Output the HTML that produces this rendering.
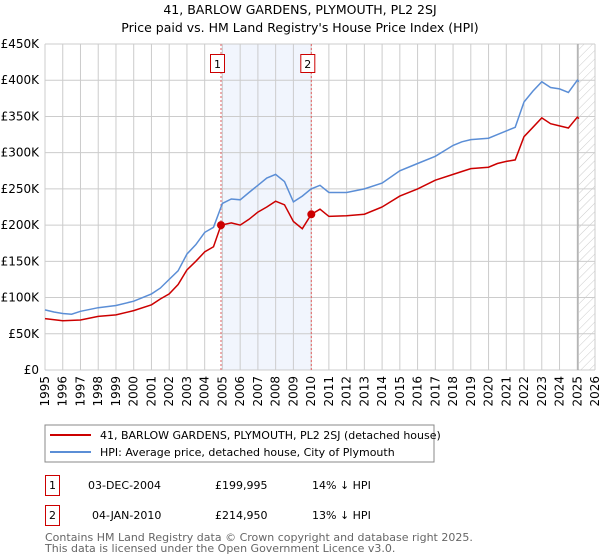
<!DOCTYPE html>
<html><head><meta charset="utf-8"><style>
body{margin:0;background:#fff;}
svg{display:block;font-family:"DejaVu Sans","Liberation Sans",sans-serif;}
</style></head><body>
<svg id="chart" width="600" height="560" viewBox="0 0 600 560">
<text x="300" y="14" text-anchor="middle" font-size="12.5" fill="#000">41, BARLOW GARDENS, PLYMOUTH, PL2 2SJ</text>
<text x="300" y="32" text-anchor="middle" font-size="12.5" fill="#000">Price paid vs. HM Land Registry's House Price Index (HPI)</text>
<g id="plot"></g>
<g>
<rect x="45" y="425" width="389" height="37" fill="#fff" stroke="#888"/>
<line x1="50" y1="435" x2="91" y2="435" stroke="#cc0000" stroke-width="2"/>
<text x="100" y="439" font-size="11">41, BARLOW GARDENS, PLYMOUTH, PL2 2SJ (detached house)</text>
<line x1="50" y1="452" x2="91" y2="452" stroke="#5b8ed6" stroke-width="2"/>
<text x="100" y="456" font-size="11">HPI: Average price, detached house, City of Plymouth</text>
</g>
<g font-size="11">
<rect x="45.5" y="475.5" width="14" height="20" fill="#fff" stroke="#cc0000"/>
<text x="52.5" y="489" text-anchor="middle">1</text>
<text x="88" y="489">03-DEC-2004</text>
<text x="215" y="489">£199,995</text>
<text x="312" y="489">14% ↓ HPI</text>
<rect x="45.5" y="505.5" width="14" height="20" fill="#fff" stroke="#cc0000"/>
<text x="52.5" y="519" text-anchor="middle">2</text>
<text x="92" y="519">04-JAN-2010</text>
<text x="215" y="519">£214,950</text>
<text x="312" y="519">13% ↓ HPI</text>
</g>
<text x="45" y="541" font-size="11" fill="#666">Contains HM Land Registry data © Crown copyright and database right 2025.</text>
<text x="45" y="552" font-size="11" fill="#666">This data is licensed under the Open Government Licence v3.0.</text>
</svg>
<script>
const years=[1995,1996,1997,1998,1999,2000,2001,2002,2003,2004,2005,2006,2007,2008,2009,2010,2011,2012,2013,2014,2015,2016,2017,2018,2019,2020,2021,2022,2023,2024,2025,2026];
const yTicks=[0,50000,100000,150000,200000,250000,300000,350000,400000,450000];
const yTickLabels=["£0","£50K","£100K","£150K","£200K","£250K","£300K","£350K","£400K","£450K"];
const hpiDates=[1995,1995.5,1996,1996.5,1997,1998,1999,2000,2001,2001.5,2002,2002.5,2003,2003.5,2004,2004.5,2005,2005.5,2006,2006.5,2007,2007.5,2008,2008.5,2009,2009.5,2010,2010.5,2011,2012,2013,2014,2015,2016,2017,2018,2018.5,2019,2020,2020.5,2021,2021.5,2022,2022.5,2023,2023.5,2024,2024.5,2025,2025.1];
const hpiValues=[83000,80000,78000,77000,81000,86000,89000,95000,105000,113000,125000,137000,160000,173000,190000,197000,230000,236000,235000,245000,255000,265000,270000,260000,232000,240000,250000,255000,245000,245000,250000,258000,275000,285000,295000,310000,315000,318000,320000,325000,330000,335000,370000,385000,398000,390000,388000,383000,400000,398000];
const priceDates=[1995,1996,1997,1998,1999,2000,2001,2001.5,2002,2002.5,2003,2003.5,2004,2004.5,2004.92,2005.5,2006,2006.5,2007,2007.5,2008,2008.5,2009,2009.5,2010.01,2010.5,2011,2012,2013,2014,2015,2016,2017,2018,2018.5,2019,2020,2020.5,2021,2021.5,2022,2022.5,2023,2023.5,2024,2024.5,2025,2025.1];
const priceValues=[71000,68000,69000,74000,76000,82000,90000,98000,105000,118000,138000,150000,163000,170000,199995,203000,200000,208000,218000,225000,233000,228000,205000,195000,214950,222000,212000,213000,215000,225000,240000,250000,262000,270000,274000,278000,280000,285000,288000,290000,322000,335000,348000,340000,337000,334000,349000,347000];
const saleDates=[2004.92,2010.01];
const salePrices=[199995,214950];
const saleLabels=["1","2"];
const X0=45,X1=595,Y0=370,Y1=44,XMIN=1995,XMAX=2026,YMAX=450000,FORECAST=2025.1;
const sx=v=>X0+(v-XMIN)/(XMAX-XMIN)*(X1-X0);
const sy=v=>Y0-v/YMAX*(Y0-Y1);
const NS="http://www.w3.org/2000/svg";
const plot=document.getElementById('plot');
function mk(tag,attrs,parent){const e=document.createElementNS(NS,tag);for(const k in attrs)e.setAttribute(k,attrs[k]);(parent||plot).appendChild(e);return e;}
// shaded region
let sh=mk('rect',{x:sx(saleDates[0]),y:Y1,width:sx(saleDates[1])-sx(saleDates[0]),height:Y0-Y1,fill:'#eef3fc',opacity:0.8});


// hatch
const defs=mk('defs',{});
const pat=mk('pattern',{id:'hatch',width:6,height:6,patternUnits:'userSpaceOnUse',patternTransform:'rotate(45)'},defs);
mk('line',{x1:0,y1:0,x2:0,y2:6,stroke:'#ccc','stroke-width':1},pat);
let ht=mk('rect',{x:sx(FORECAST),y:Y1,width:X1-sx(FORECAST),height:Y0-Y1,fill:'url(#hatch)'});


// grid
years.forEach(y=>{
 let l=mk('line',{x1:sx(y),y1:Y1,x2:sx(y),y2:Y0,stroke:'#ccc','stroke-width':1});
 
 
 let t=mk('text',{x:0,y:0,'font-size':12,'text-anchor':'end',transform:`translate(${sx(y)+4},${Y0+6}) rotate(-90)`});
 t.textContent=y;
 
 
});
yTicks.forEach((v,i)=>{
 let l=mk('line',{x1:X0,y1:sy(v),x2:X1,y2:sy(v),stroke:'#ccc','stroke-width':1});
 
 
 let t=mk('text',{x:X0-6,y:sy(v)+4,'font-size':12,'text-anchor':'end'});
 t.textContent=yTickLabels[i];
 
 
});
let fl=mk('line',{x1:sx(FORECAST)-1,y1:Y1,x2:sx(FORECAST)-1,y2:Y0,stroke:'#999','stroke-width':1});


// sale vlines
saleDates.forEach((d,i)=>{
 let l=mk('line',{x1:sx(d),y1:Y1,x2:sx(d),y2:Y0,stroke:'#e06060','stroke-width':1,'stroke-dasharray':'2,2'});
 
 
 let r=mk('rect',{x:sx(d)-10.5,y:54.5,width:14,height:18,fill:'#fff',stroke:'#cc0000'});
 
 
 let t=mk('text',{x:sx(d)-3.5,y:68,'font-size':11,'text-anchor':'middle'});
 t.textContent=saleLabels[i];
 
 
});
function path(xs,ys){return xs.map((x,i)=>(i?'L':'M')+sx(x).toFixed(1)+','+sy(ys[i]).toFixed(1)).join('');}
let hp=mk('path',{d:path(hpiDates,hpiValues),fill:'none',stroke:'#5b8ed6','stroke-width':1.5});


let pp=mk('path',{d:path(priceDates,priceValues),fill:'none',stroke:'#cc0000','stroke-width':1.5});


saleDates.forEach((d,i)=>{
 let c=mk('circle',{cx:sx(d),cy:sy(salePrices[i]),r:4,fill:'#cc0000'});
 
 
});
</script>
</body></html>
